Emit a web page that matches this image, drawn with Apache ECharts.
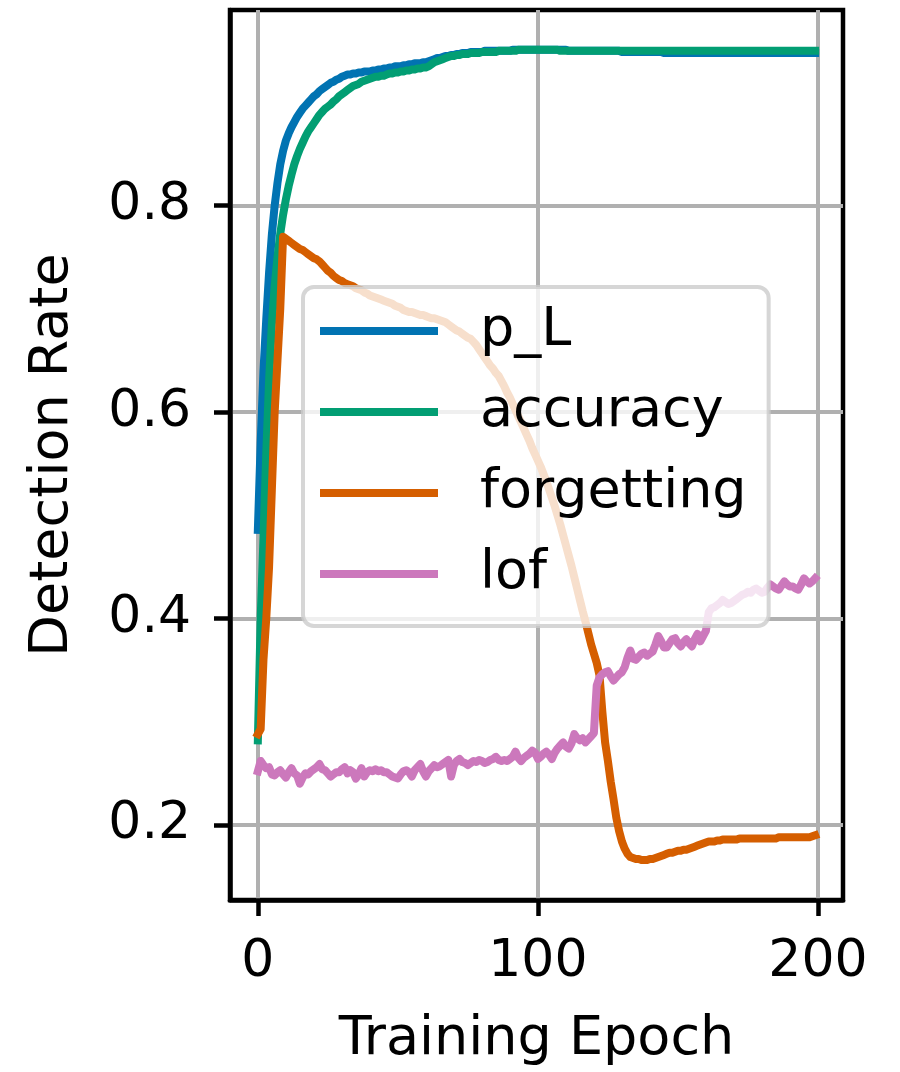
<!DOCTYPE html>
<html>
<head>
<meta charset="utf-8">
<script src="https://cdn.jsdelivr.net/npm/echarts@6/dist/echarts.min.js"></script>
<style>
  html, body { margin: 0; padding: 0; background: #ffffff; }
  #chart { width: 900px; height: 1072px; }
</style>
</head>
<body>
<div id="chart"></div>
<script>
// Detection rate per training epoch for four scoring methods.
const seriesNames = ['p_L', 'accuracy', 'forgetting', 'lof'];
const xTicks = [0, 100, 200];
const yTicks = [0.2, 0.4, 0.6, 0.8];

const pL = [
  0.486,0.570,0.640,0.690,0.735,0.772,0.800,0.822,0.840,0.853,
  0.863,0.870,0.876,0.881,0.886,0.890,0.894,0.897,0.900,0.903,
  0.906,0.908,0.911,0.913,0.915,0.917,0.919,0.920,0.922,0.923,
  0.925,0.926,0.927,0.927,0.928,0.928,0.929,0.929,0.930,0.930,
  0.930,0.931,0.931,0.932,0.932,0.933,0.933,0.934,0.934,0.935,
  0.935,0.935,0.936,0.936,0.937,0.937,0.938,0.938,0.938,0.939,
  0.939,0.940,0.941,0.942,0.943,0.943,0.944,0.945,0.945,0.946,
  0.946,0.947,0.947,0.948,0.948,0.948,0.949,0.949,0.949,0.949,
  0.949,0.950,0.950,0.950,0.950,0.950,0.950,0.950,0.950,0.950,
  0.950,0.951,0.951,0.951,0.951,0.951,0.951,0.951,0.951,0.951,
  0.951,0.951,0.951,0.951,0.951,0.951,0.951,0.951,0.951,0.951,
  0.951,0.950,0.950,0.950,0.950,0.950,0.950,0.950,0.950,0.950,
  0.950,0.950,0.950,0.950,0.950,0.950,0.950,0.950,0.950,0.950,
  0.949,0.949,0.949,0.949,0.949,0.949,0.949,0.949,0.949,0.949,
  0.949,0.949,0.949,0.949,0.949,0.948,0.948,0.948,0.948,0.948,
  0.948,0.948,0.948,0.948,0.948,0.948,0.948,0.948,0.948,0.948,
  0.948,0.948,0.948,0.948,0.948,0.948,0.948,0.948,0.948,0.948,
  0.948,0.948,0.948,0.948,0.948,0.948,0.948,0.948,0.948,0.948,
  0.948,0.948,0.948,0.948,0.948,0.948,0.948,0.948,0.948,0.948,
  0.948,0.948,0.948,0.948,0.948,0.948,0.948,0.948,0.948,0.948
];

const accuracy = [
  0.282,0.400,0.478,0.560,0.630,0.685,0.722,0.750,0.773,0.791,
  0.806,0.819,0.830,0.840,0.848,0.855,0.861,0.867,0.872,0.876,
  0.880,0.884,0.888,0.891,0.894,0.896,0.898,0.901,0.903,0.906,
  0.908,0.910,0.912,0.914,0.916,0.917,0.918,0.920,0.921,0.922,
  0.923,0.924,0.925,0.925,0.926,0.926,0.927,0.928,0.928,0.929,
  0.929,0.930,0.930,0.931,0.931,0.932,0.932,0.933,0.933,0.934,
  0.934,0.935,0.937,0.939,0.940,0.941,0.942,0.943,0.944,0.945,
  0.945,0.946,0.946,0.947,0.947,0.947,0.948,0.948,0.948,0.948,
  0.949,0.949,0.949,0.949,0.949,0.949,0.950,0.950,0.950,0.950,
  0.950,0.950,0.950,0.951,0.951,0.951,0.951,0.951,0.951,0.951,
  0.951,0.951,0.951,0.951,0.951,0.951,0.951,0.951,0.950,0.950,
  0.950,0.950,0.950,0.950,0.950,0.950,0.950,0.950,0.950,0.950,
  0.950,0.950,0.950,0.950,0.950,0.950,0.950,0.950,0.950,0.950,
  0.950,0.950,0.950,0.950,0.950,0.950,0.950,0.950,0.950,0.950,
  0.950,0.950,0.950,0.950,0.950,0.950,0.950,0.950,0.950,0.950,
  0.950,0.950,0.950,0.950,0.950,0.950,0.950,0.950,0.950,0.950,
  0.950,0.950,0.950,0.950,0.950,0.950,0.950,0.950,0.950,0.950,
  0.950,0.950,0.950,0.950,0.950,0.950,0.950,0.950,0.950,0.950,
  0.950,0.950,0.950,0.950,0.950,0.950,0.950,0.950,0.950,0.950,
  0.950,0.950,0.950,0.950,0.950,0.950,0.950,0.950,0.950,0.950
];

const forgetting = [
  0.288,0.293,0.360,0.400,0.450,0.525,0.600,0.650,0.700,0.770,
  0.768,0.766,0.764,0.762,0.760,0.758,0.757,0.755,0.753,0.751,
  0.749,0.748,0.746,0.743,0.740,0.737,0.735,0.732,0.730,0.728,
  0.727,0.725,0.724,0.723,0.722,0.720,0.719,0.718,0.716,0.715,
  0.713,0.712,0.711,0.710,0.709,0.708,0.707,0.706,0.705,0.703,
  0.702,0.701,0.699,0.698,0.697,0.697,0.696,0.695,0.694,0.694,
  0.693,0.692,0.691,0.691,0.690,0.689,0.688,0.687,0.685,0.683,
  0.681,0.679,0.678,0.676,0.674,0.672,0.671,0.668,0.665,0.661,
  0.657,0.653,0.649,0.645,0.642,0.638,0.635,0.630,0.625,0.619,
  0.614,0.608,0.602,0.596,0.590,0.584,0.578,0.572,0.565,0.559,
  0.553,0.547,0.540,0.533,0.525,0.517,0.509,0.500,0.491,0.481,
  0.471,0.461,0.451,0.440,0.429,0.418,0.407,0.397,0.386,0.375,
  0.366,0.357,0.345,0.310,0.280,0.262,0.242,0.225,0.207,0.194,
  0.184,0.177,0.172,0.169,0.168,0.167,0.167,0.166,0.166,0.166,
  0.167,0.167,0.168,0.169,0.170,0.171,0.172,0.173,0.173,0.174,
  0.175,0.175,0.176,0.176,0.177,0.178,0.179,0.180,0.181,0.182,
  0.183,0.184,0.184,0.184,0.185,0.185,0.186,0.186,0.186,0.186,
  0.186,0.186,0.187,0.187,0.187,0.187,0.187,0.187,0.187,0.187,
  0.187,0.187,0.187,0.187,0.187,0.187,0.188,0.188,0.188,0.188,
  0.188,0.188,0.188,0.188,0.188,0.188,0.188,0.188,0.189,0.190
];

const lof = [
  0.252,0.262,0.258,0.255,0.256,0.249,0.248,0.251,0.253,0.249,
  0.246,0.251,0.255,0.250,0.248,0.240,0.246,0.250,0.249,0.252,
  0.254,0.256,0.259,0.254,0.253,0.250,0.247,0.249,0.251,0.251,
  0.254,0.256,0.250,0.253,0.251,0.245,0.249,0.255,0.247,0.251,
  0.253,0.252,0.254,0.252,0.253,0.251,0.251,0.249,0.247,0.246,
  0.245,0.249,0.252,0.253,0.251,0.247,0.253,0.256,0.259,0.252,
  0.247,0.252,0.255,0.258,0.256,0.257,0.259,0.261,0.263,0.247,
  0.258,0.262,0.264,0.261,0.260,0.258,0.260,0.262,0.261,0.263,
  0.262,0.260,0.261,0.263,0.264,0.266,0.263,0.262,0.263,0.262,
  0.264,0.266,0.271,0.265,0.262,0.265,0.267,0.269,0.272,0.270,
  0.264,0.266,0.269,0.271,0.268,0.264,0.270,0.274,0.277,0.280,
  0.276,0.274,0.279,0.288,0.284,0.282,0.284,0.280,0.283,0.286,
  0.289,0.335,0.343,0.346,0.348,0.349,0.344,0.340,0.343,0.346,
  0.348,0.353,0.362,0.369,0.361,0.360,0.363,0.366,0.367,0.364,
  0.366,0.368,0.375,0.383,0.378,0.372,0.372,0.376,0.380,0.381,
  0.376,0.373,0.377,0.380,0.376,0.373,0.380,0.385,0.378,0.383,
  0.388,0.406,0.410,0.411,0.413,0.415,0.418,0.416,0.414,0.415,
  0.417,0.419,0.421,0.423,0.424,0.426,0.425,0.428,0.429,0.427,
  0.425,0.426,0.430,0.433,0.431,0.429,0.428,0.432,0.436,0.433,
  0.431,0.431,0.429,0.428,0.433,0.439,0.436,0.434,0.436,0.439
];

const seriesValues = [pL, accuracy, forgetting, lof];
const palette = ['#0173B2', '#029E73', '#D55E00', '#CC78BC'];
const FONT = 'DejaVu Sans';

const epochs = pL.map((_, i) => i);

const chart = echarts.init(document.getElementById('chart'), null, { renderer: 'canvas' });

const option = {
  animation: false,
  backgroundColor: '#ffffff',
  textStyle: { fontFamily: FONT, color: '#000000' },
  grid: {
    left: 230, top: 10, width: 613, height: 895,
    show: true, borderColor: '#000000', borderWidth: 4.5,
    backgroundColor: 'transparent', containLabel: false
  },
  legend: {
    orient: 'vertical',
    left: 303, top: 287,
    data: seriesNames,
    icon: 'rect',
    itemWidth: 118, itemHeight: 8, itemGap: 21,
    padding: [14, 22, 22, 17],
    backgroundColor: 'rgba(255,255,255,0.8)',
    borderColor: 'rgba(204,204,204,0.8)',
    borderWidth: 4,
    borderRadius: 11,
    selectedMode: false,
    textStyle: {
      fontFamily: FONT, fontSize: 54, lineHeight: 60, color: '#000000',
      padding: [0, 0, 0, 37]
    }
  },
  xAxis: {
    type: 'value',
    min: -9.95, max: 208.95,
    name: 'Training Epoch',
    nameLocation: 'middle',
    nameGap: 113,
    nameTextStyle: { fontFamily: FONT, fontSize: 54, lineHeight: 54, color: '#000000' },
    axisLine: { show: true, onZero: false, lineStyle: { color: '#000000', width: 4.5 } },
    axisTick: {
      show: true, inside: false, length: 16, customValues: xTicks,
      lineStyle: { color: '#000000', width: 4.5 }
    },
    axisLabel: {
      customValues: xTicks, margin: 36,
      fontFamily: FONT, fontSize: 52, lineHeight: 52, color: '#000000'
    },
    splitLine: { show: true, lineStyle: { color: '#b0b0b0', width: 4 } }
  },
  yAxis: {
    type: 'value',
    min: 0.1273, max: 0.9896,
    name: 'Detection Rate',
    nameLocation: 'middle',
    nameGap: 150,
    nameTextStyle: { fontFamily: FONT, fontSize: 54, lineHeight: 54, color: '#000000' },
    axisLine: { show: true, onZero: false, lineStyle: { color: '#000000', width: 4.5 } },
    axisTick: {
      show: true, inside: false, length: 16, customValues: yTicks,
      lineStyle: { color: '#000000', width: 4.5 }
    },
    axisLabel: {
      customValues: yTicks, margin: 39,
      fontFamily: FONT, fontSize: 52, lineHeight: 52, color: '#000000',
      formatter: v => v.toFixed(1)
    },
    splitLine: { show: true, lineStyle: { color: '#b0b0b0', width: 4 } }
  },
  series: seriesNames.map((name, k) => ({
    name: name,
    type: 'line',
    data: epochs.map(i => [i, seriesValues[k][i]]),
    showSymbol: false,
    symbol: 'none',
    clip: true,
    lineStyle: { width: 8, color: palette[k], cap: 'square', join: 'round' },
    itemStyle: { color: palette[k] },
    emphasis: { disabled: true }
  }))
};

chart.setOption(option);
</script>
</body>
</html>
